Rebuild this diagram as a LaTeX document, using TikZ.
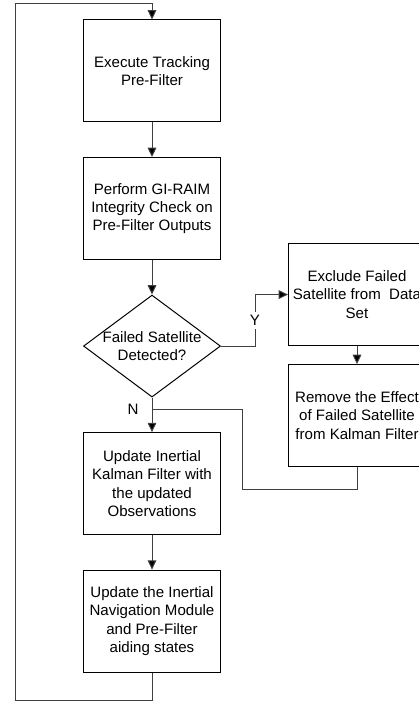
\documentclass[tikz,border=0pt]{standalone}
\usepackage{fontspec}
\setmainfont{Liberation Sans}
\usetikzlibrary{calc,positioning,arrows.meta,shapes.geometric}

\tikzset{
  stage/.style={draw, rectangle, line width=0.75pt, align=center, inner sep=1pt,
    minimum width=102.75pt, minimum height=76.5pt},
  decision/.style={draw, diamond, line width=0.75pt, inner sep=0pt,
    minimum width=102.75pt, minimum height=76.5pt},
  arr/.style={-{Triangle[width=6.5pt,length=7pt,fill=black]}, draw=black!75, line width=0.75pt},
  link/.style={draw=black!75, line width=0.75pt},
  lbl/.style={inner sep=2.5pt}
}

\begin{document}
\begin{tikzpicture}[x=0.75pt, y=-0.75pt, node distance=25.9pt,
    font=\fontsize{11.3}{13.8}\selectfont]
        \useasboundingbox (0,0) rectangle (418,702);
        \node[stage] (track) at (152,71) {Execute Tracking\\Pre-Filter};
        \node[stage, below=of track] (raim) {Perform GI-RAIM\\Integrity Check on\\Pre-Filter Outputs};
        \node[decision, below=of raim] (fail) {};
        \node[align=center] (failtext) at (fail) {Failed Satellite\\Detected?};
        \node[stage, below=of fail] (kalman) {Update Inertial\\Kalman Filter with\\the updated\\Observations};
        \node[stage, below=of kalman] (nav) {Update the Inertial\\Navigation Module\\and Pre-Filter\\aiding states};
        \node[stage] (excl) at ($(fail.north)+(205,0)$) {Exclude Failed\\Satellite from\ \ Data\\Set};
        \node[stage, below=13.5pt of excl] (remove) {Remove the Effect\\of Failed Satellite\\from Kalman Filter};
        % joining points
        \coordinate (njoin) at ($(fail.south)+(0,12)$);
        \coordinate (lbot) at ($(nav.south)+(0,28)$);
        \coordinate (ltop) at ($(track.north)+(0,-16)$);
        \draw[arr] (track) -- (raim);
        \draw[arr] (raim) -- (fail);
        \draw[arr] (fail) -- (kalman);
        \draw[arr] (kalman) -- (nav);
        \draw[arr] (excl) -- (remove);
        \draw[arr] (fail.east) -- ++(34,0) |- node[lbl, fill=white, pos=0.25] (ylbl) {Y} (excl.west);
        \node[lbl] (nlbl) at ($(njoin)+(-19,0)$) {N};
        \draw[link] (remove.south) -- ++(0,22) -| ($(njoin)+(90,0)$) -- (njoin);
        \draw[arr] (nav.south) -- (lbot) -- ++(-137,0) |- (ltop) -- (track.north);
    \end{tikzpicture}
\end{document}
